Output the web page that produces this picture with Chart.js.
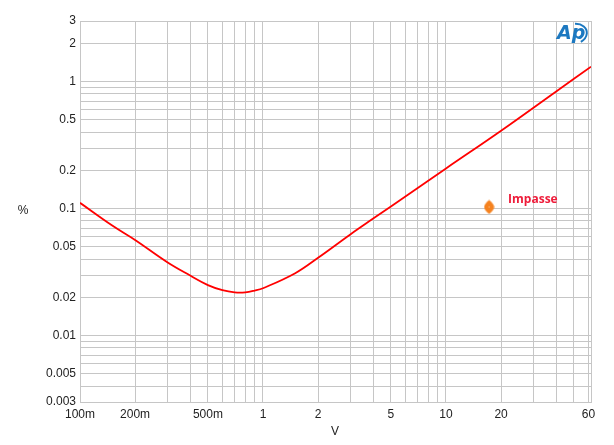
<!DOCTYPE html>
<html>
<head>
<meta charset="utf-8">
<script src="https://cdn.jsdelivr.net/npm/chart.js@4/dist/chart.umd.min.js"></script>
<style>
  html, body { margin: 0; padding: 0; background: #fff; }
  #wrap { width: 614px; height: 445px; }
</style>
</head>
<body>
<div id="wrap"><canvas id="thd" width="614" height="445"></canvas></div>
<script>
// data --------------------------------------------------------------------
const voltage = [0.1, 0.15, 0.2, 0.3, 0.4, 0.5, 0.6, 0.7, 0.8, 0.9, 1, 1.5, 2, 3, 4, 5, 6, 10, 20, 40, 62];
const thdPct  = [0.111, 0.0735, 0.0566, 0.0378, 0.0297, 0.025, 0.0228, 0.0219, 0.0219, 0.0226, 0.0236, 0.031, 0.041, 0.0626, 0.0834, 0.104, 0.1245, 0.207, 0.41, 0.836, 1.31];

const markerX = [17.2];
const markerY = [0.103];
const markerName = 'Impasse';

const xTickValues = [0.1, 0.2, 0.5, 1, 2, 5, 10, 20, 60];
const xTickLabels = ['100m', '200m', '500m', '1', '2', '5', '10', '20', '60'];
const yTickValues = [3, 2, 1, 0.5, 0.2, 0.1, 0.05, 0.02, 0.01, 0.005, 0.003];
const yTickLabels = ['3', '2', '1', '0.5', '0.2', '0.1', '0.05', '0.02', '0.01', '0.005', '0.003'];

const xMin = 0.1, xMax = 62;
const yMin = 0.003, yMax = 3;

// 1-2-...-9 grid lines per decade within the range
function logGrid(min, max) {
  const out = [];
  for (let e = -4; e <= 3; e++) {
    for (let m = 1; m <= 9; m++) {
      const v = +(m * Math.pow(10, e)).toPrecision(6);
      if (v >= min - 1e-9 && v <= max + 1e-9) out.push(v);
    }
  }
  if (out[out.length - 1] < max) out.push(max);
  return out;
}

function labelFor(values, labels, v) {
  for (let i = 0; i < values.length; i++) {
    if (Math.abs(values[i] - v) / values[i] < 1e-6) return labels[i];
  }
  return '';
}

// orange marker, a tall rounded diamond
const markerImg = document.createElement('canvas');
markerImg.width = 11; markerImg.height = 15;
(function () {
  const c = markerImg.getContext('2d');
  c.fillStyle = '#f5821f';
  c.beginPath();
  c.moveTo(5.5, 0.5);
  c.bezierCurveTo(9, 3.5, 10.5, 5.5, 10.5, 7.5);
  c.bezierCurveTo(10.5, 9.5, 9, 11.5, 5.5, 14.5);
  c.bezierCurveTo(2, 11.5, 0.5, 9.5, 0.5, 7.5);
  c.bezierCurveTo(0.5, 5.5, 2, 3.5, 5.5, 0.5);
  c.fill();
  c.fillStyle = '#fbd0a8';
  c.fillRect(5, 7, 1, 1);
})();

const gridColor = '#c6c6c6';
const tickFont = { family: 'Arial, "Liberation Sans", sans-serif', size: 12 };

const extras = {
  id: 'extras',
  afterDatasetsDraw(chart) {
    const c = chart.ctx;
    const xs = chart.scales.x, ys = chart.scales.y;
    c.save();
    // axis titles
    c.fillStyle = '#222';
    c.font = '12px Arial, "Liberation Sans", sans-serif';
    c.textAlign = 'center';
    c.textBaseline = 'middle';
    c.fillText('%', 23, 211);
    c.fillText('V', 335, 432);

    // marker label
    const px = xs.getPixelForValue(markerX[0]);
    const py = ys.getPixelForValue(markerY[0]);
    c.fillStyle = '#ee1c3a';
    c.font = 'bold 12px "Open Sans", "DejaVu Sans", sans-serif';
    c.textAlign = 'left';
    c.fillText(markerName, px + 19, py - 7);

    // Ap logo
    c.fillStyle = '#1c78c0';
    c.strokeStyle = '#1c78c0';
    c.font = 'italic bold 19px "DejaVu Sans", sans-serif';
    c.textAlign = 'left';
    c.fillText('Ap', 557, 34);
    c.lineWidth = 2;
    c.beginPath();
    c.ellipse(574, 34, 13, 10, -0.25, -1.3, 1.2);
    c.stroke();
    c.restore();
  }
};

const ctx = document.getElementById('thd');
new Chart(ctx, {
  type: 'line',
  data: {
    datasets: [
      {
        label: 'THD+N',
        data: voltage.map((v, i) => ({ x: v, y: thdPct[i] })),
        borderColor: '#ff0000',
        borderWidth: 1.8,
        pointRadius: 0,
        tension: 0.4,
        fill: false
      },
      {
        label: markerName,
        data: markerX.map((v, i) => ({ x: v, y: markerY[i] })),
        showLine: false,
        pointStyle: markerImg,
        pointRadius: 6
      }
    ]
  },
  options: {
    responsive: false,
    animation: false,
    layout: { padding: { top: 21, right: 23, left: 0, bottom: 0 } },
    plugins: {
      legend: { display: false },
      tooltip: { enabled: false }
    },
    scales: {
      x: {
        type: 'logarithmic',
        min: xMin,
        max: xMax,
        afterBuildTicks(scale) {
          scale.ticks = logGrid(xMin, xMax).map(v => ({ value: v }));
        },
        afterFit(scale) {
          scale.height = 43;
          scale.paddingLeft = 0;
          scale.paddingRight = 0;
        },
        grid: { color: gridColor, lineWidth: 1, drawTicks: false },
        border: { color: gridColor },
        ticks: {
          autoSkip: false,
          maxRotation: 0,
          padding: 5,
          color: '#222',
          font: tickFont,
          callback: (v) => labelFor(xTickValues, xTickLabels, v)
        }
      },
      y: {
        type: 'logarithmic',
        min: yMin,
        max: yMax,
        afterBuildTicks(scale) {
          scale.ticks = logGrid(yMin, yMax).map(v => ({ value: v }));
        },
        afterFit(scale) {
          scale.width = 80;
          scale.paddingTop = 0;
          scale.paddingBottom = 0;
        },
        grid: { color: gridColor, lineWidth: 1, drawTicks: false },
        border: { color: gridColor },
        ticks: {
          autoSkip: false,
          padding: 4,
          color: '#222',
          font: tickFont,
          callback: (v) => labelFor(yTickValues, yTickLabels, v)
        }
      }
    }
  },
  plugins: [extras]
});
</script>
</body>
</html>
